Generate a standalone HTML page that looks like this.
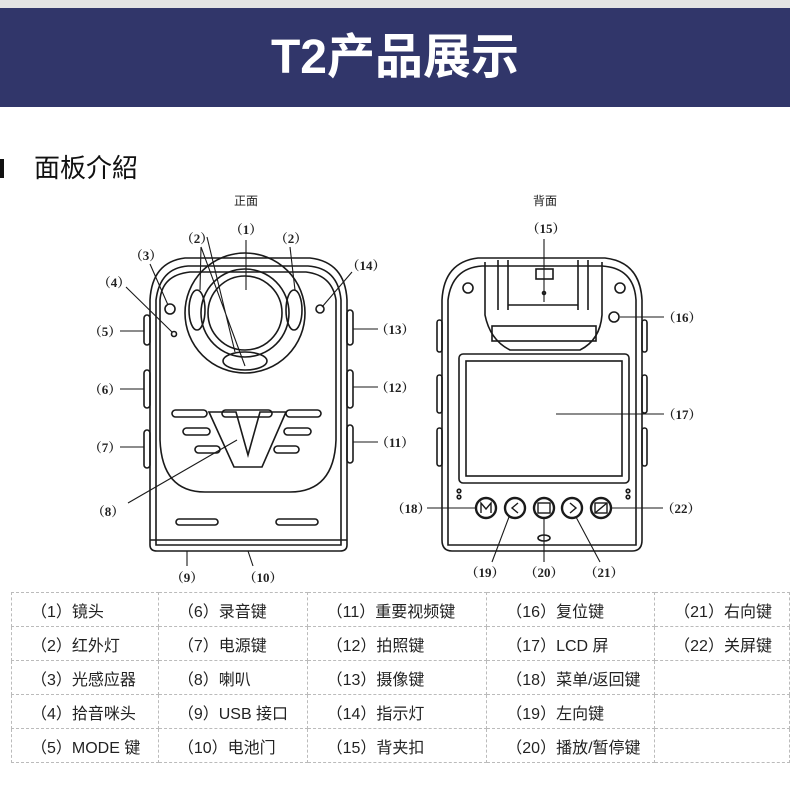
<!DOCTYPE html>
<html><head><meta charset="utf-8"><style>
body{margin:0;width:790px;height:785px;background:#fff;position:relative;overflow:hidden;font-family:"Liberation Sans","Noto Sans CJK SC",sans-serif}
.hdr{position:absolute;left:0;top:0;width:790px;height:8px;background:#e3e3e3}
.ban{position:absolute;left:0;top:8px;width:790px;height:99px;background:#31366a;color:#fff;font-weight:bold;font-size:48px;text-align:center;line-height:99px}
.bar{position:absolute;left:0;top:159px;width:4px;height:19px;background:#111}
.sec{position:absolute;left:34px;top:151px;font-size:26px;color:#111;line-height:34px}
svg{position:absolute;left:0;top:0}
table{position:absolute;left:11px;top:592px;border-collapse:collapse;font-size:16px;color:#222}
td{border:1px dashed #bbb;height:34px;padding:0 0 0 19px;box-sizing:border-box;white-space:nowrap}
</style></head><body>
<div class="hdr"></div><div class="ban">T2产品展示</div>
<div class="bar"></div><div class="sec">面板介紹</div>
<svg width="790" height="590" viewBox="0 0 790 590" font-family="'Liberation Serif','Noto Serif CJK SC',serif" font-weight="bold" font-size="13" fill="none" stroke="#1a1a1a" stroke-width="1.6">
<g fill="#222" stroke="none" text-anchor="middle">
<text x="246" y="205" font-weight="normal" font-family="'Liberation Sans','Noto Sans CJK SC',sans-serif" font-size="12">正面</text>
<text x="545" y="205" font-weight="normal" font-family="'Liberation Sans','Noto Sans CJK SC',sans-serif" font-size="12">背面</text>
<text x="246" y="234">（1）</text><text x="197" y="243">（2）</text><text x="291" y="243">（2）</text>
<text x="146" y="260">（3）</text><text x="114" y="287">（4）</text><text x="366" y="270">（14）</text>
<text x="105" y="336">（5）</text><text x="395" y="334">（13）</text>
<text x="105" y="394">（6）</text><text x="395" y="392">（12）</text>
<text x="105" y="452">（7）</text><text x="395" y="447">（11）</text>
<text x="108" y="516">（8）</text><text x="187" y="582">（9）</text><text x="263" y="582">（10）</text>
<text x="546" y="233">（15）</text><text x="682" y="322">（16）</text><text x="682" y="419">（17）</text>
<text x="411" y="513">（18）</text><text x="681" y="513">（22）</text>
<text x="485" y="577">（19）</text><text x="544" y="577">（20）</text><text x="604" y="577">（21）</text>
</g>
<!-- front -->
<path d="M150 300 Q152 262 185 258 L310 258 Q345 262 347 300 L347 545 Q347 551 340 551 L157 551 Q150 551 150 545 Z"/>
<path d="M156 300 Q160 268 188 266 L308 266 Q338 268 341 300 L341 545 L156 545 Z"/>
<path d="M160 300 Q162 275 190 272 L306 272 Q332 275 336 300 L336 440 Q334 492 290 492 L205 492 Q162 492 160 440 Z"/>
<path d="M150 540 L347 540"/>
<circle cx="245" cy="313" r="60"/><circle cx="245" cy="313" r="44"/><circle cx="245" cy="313" r="37"/>
<ellipse cx="197" cy="310" rx="8" ry="20"/><ellipse cx="294" cy="310" rx="8" ry="20"/>
<ellipse cx="245" cy="361" rx="22" ry="9"/>
<circle cx="170" cy="309" r="5"/><circle cx="174" cy="334" r="2.5"/><circle cx="320" cy="309" r="4"/>
<path d="M209 412 L236 412 L248 455 L260 412 L286 412 L262 467 L234 467 Z"/>
<rect x="172" y="410" width="35" height="7" rx="3.5"/><rect x="222" y="410" width="50" height="7" rx="3.5"/><rect x="286" y="410" width="35" height="7" rx="3.5"/>
<rect x="183" y="428" width="27" height="7" rx="3.5"/><rect x="284" y="428" width="27" height="7" rx="3.5"/>
<rect x="195" y="446" width="25" height="7" rx="3.5"/><rect x="274" y="446" width="25" height="7" rx="3.5"/>
<rect x="176" y="519" width="42" height="6" rx="3"/><rect x="276" y="519" width="42" height="6" rx="3"/>
<rect x="144" y="315" width="6" height="30" rx="3"/><rect x="144" y="370" width="6" height="38" rx="3"/><rect x="144" y="430" width="6" height="38" rx="3"/>
<rect x="347" y="310" width="6" height="35" rx="3"/><rect x="347" y="370" width="6" height="38" rx="3"/><rect x="347" y="425" width="6" height="38" rx="3"/>
<g stroke-width="1.1">
<path d="M201 247 L245 366 M201 247 L200 290 M207 237 L235 352"/>
<path d="M290 247 L295 290"/>
<path d="M246 240 L246 290"/>
<path d="M150 264 L168 305 M126 287 L172 332"/>
<path d="M352 272 L322 307"/>
<path d="M120 331 L144 331 M120 389 L144 389 M120 447 L144 447"/>
<path d="M353 329 L378 329 M353 387 L378 387 M353 442 L378 442"/>
<path d="M128 503 L237 440"/>
<path d="M187 566 L187 551 M253 566 L248 551"/>
</g>
<!-- back -->
<path d="M442 300 Q444 262 478 258 L605 258 Q640 262 642 300 L642 540 Q642 551 632 551 L452 551 Q442 551 442 540 Z"/>
<path d="M448 300 Q452 268 482 266 L602 266 Q634 268 636 300 L636 545 L448 545 Z"/>
<path d="M485 262 L485 315 Q490 340 510 350 L580 350 Q600 340 602 315 L602 262"/>
<path d="M498 260 L498 310 M508 260 L508 310 M578 260 L578 310 M588 260 L588 310 M508 305 L578 305"/>
<rect x="492" y="326" width="104" height="15"/>
<rect x="536" y="269" width="17" height="10"/><circle cx="544" cy="293" r="1.5"/>
<circle cx="468" cy="288" r="5"/><circle cx="620" cy="288" r="5"/><circle cx="614" cy="317" r="5"/>
<rect x="459" y="354" width="170" height="129" rx="4"/><rect x="466" y="361" width="156" height="115"/>
<circle cx="459" cy="491" r="1.8"/><circle cx="459" cy="497" r="1.8"/><circle cx="628" cy="491" r="1.8"/><circle cx="628" cy="497" r="1.8"/>
<g stroke-width="2.4"><circle cx="486" cy="508" r="10"/><circle cx="515" cy="508" r="10"/><circle cx="544" cy="508" r="10"/><circle cx="572" cy="508" r="10"/><circle cx="601" cy="508" r="10"/></g>
<g stroke-width="1.4"><path d="M481 513 L481 503 L486 509 L491 503 L491 513"/><path d="M518 503 L512 508 L518 513"/><path d="M570 503 L576 508 L570 513"/><rect x="538" y="503" width="12" height="10"/><rect x="595" y="503" width="12" height="10"/><path d="M595 513 L607 503"/></g>
<ellipse cx="544" cy="538" rx="6" ry="3"/>
<rect x="437" y="320" width="5" height="32" rx="2.5"/><rect x="437" y="375" width="5" height="38" rx="2.5"/><rect x="437" y="428" width="5" height="38" rx="2.5"/>
<rect x="642" y="320" width="5" height="32" rx="2.5"/><rect x="642" y="375" width="5" height="38" rx="2.5"/><rect x="642" y="428" width="5" height="38" rx="2.5"/>
<g stroke-width="1.1">
<path d="M544 239 L544 302 M620 317 L664 317 M556 414 L664 414 M427 508 L476 508 M611 508 L663 508"/>
<path d="M492 562 L509 517 M544 562 L544 518 M600 562 L576 517"/>
</g>
</svg>
<table>
<tr><td style="width:147px">（1）镜头</td><td style="width:149px">（6）录音键</td><td style="width:180px">（11）重要视频键</td><td style="width:168px">（16）复位键</td><td style="width:135px">（21）右向键</td></tr>
<tr><td>（2）红外灯</td><td>（7）电源键</td><td>（12）拍照键</td><td>（17）LCD 屏</td><td>（22）关屏键</td></tr>
<tr><td>（3）光感应器</td><td>（8）喇叭</td><td>（13）摄像键</td><td>（18）菜单/返回键</td><td></td></tr>
<tr><td>（4）拾音咪头</td><td>（9）USB 接口</td><td>（14）指示灯</td><td>（19）左向键</td><td></td></tr>
<tr><td>（5）MODE 键</td><td>（10）电池门</td><td>（15）背夹扣</td><td>（20）播放/暂停键</td><td></td></tr>
</table>
</body></html>
